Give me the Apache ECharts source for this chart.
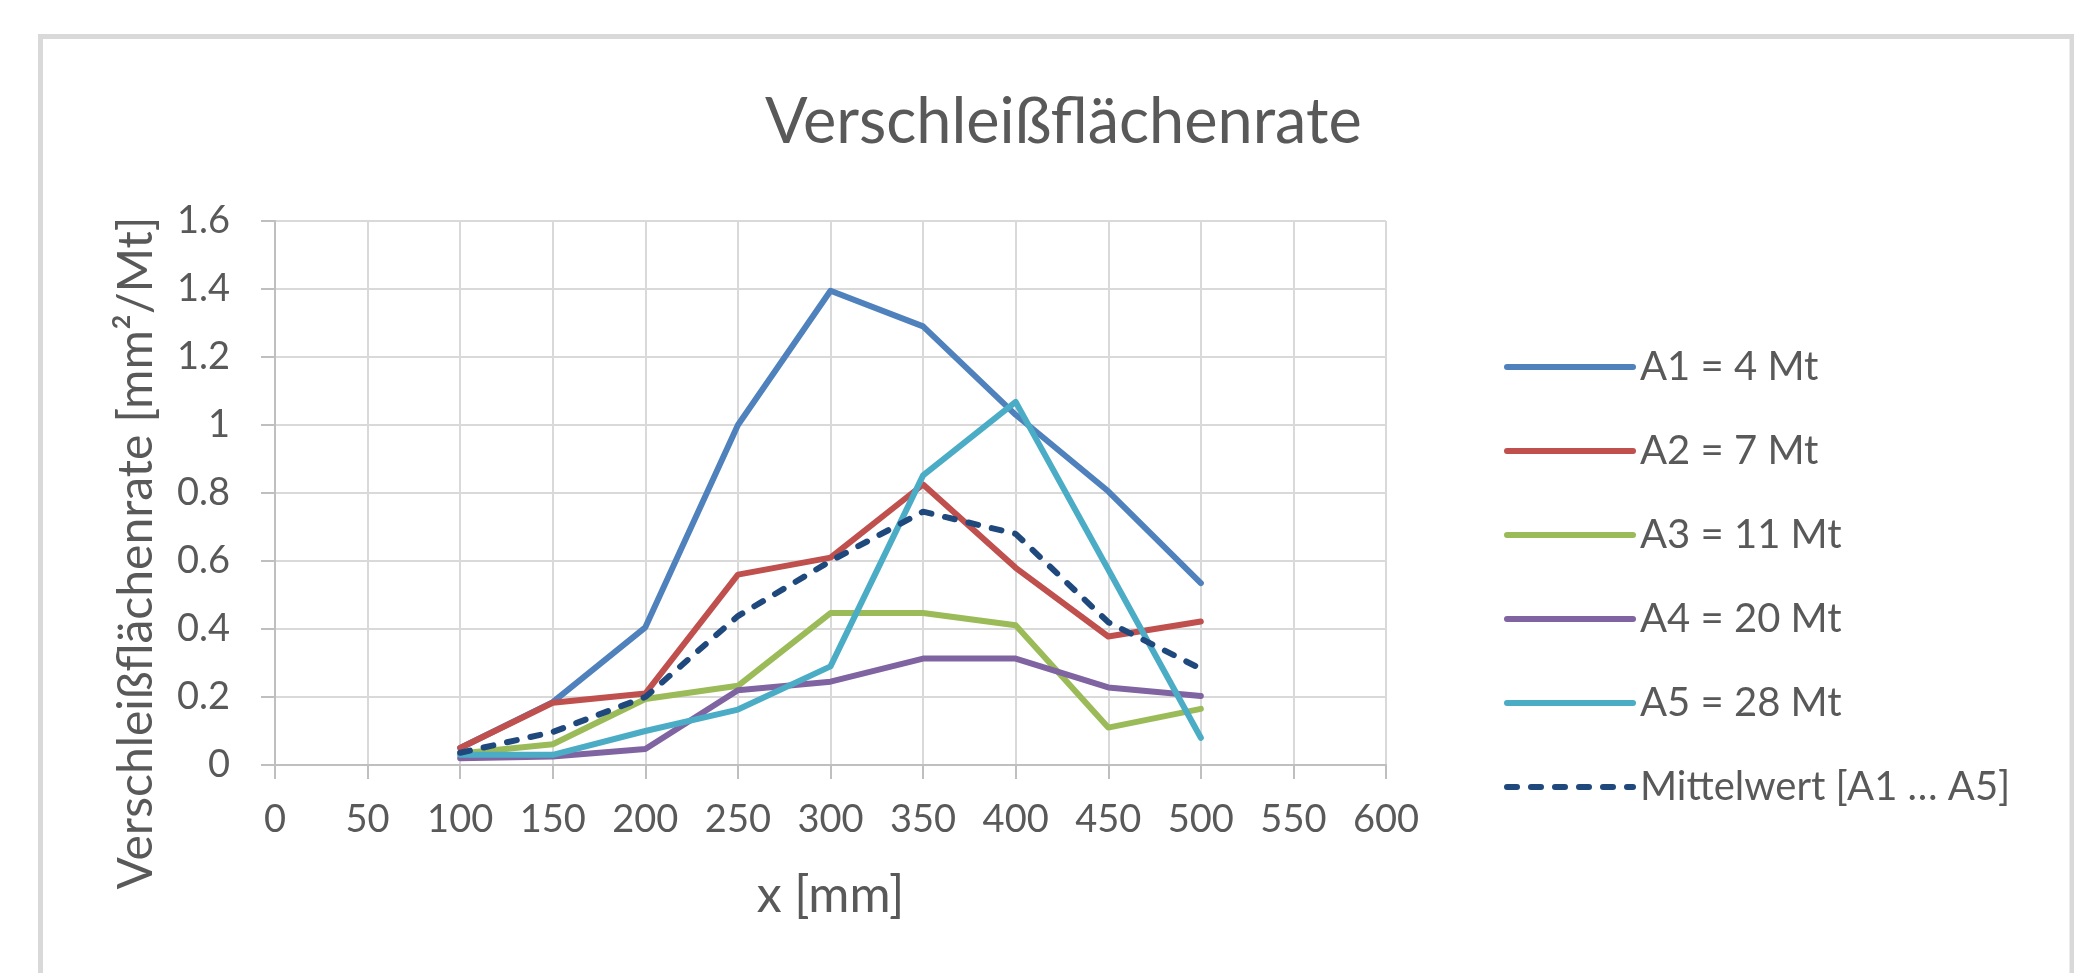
<!DOCTYPE html>
<html>
<head>
<meta charset="utf-8">
<script src="https://cdn.jsdelivr.net/npm/echarts@6/dist/echarts.min.js"></script>
<style>
  html, body { margin: 0; padding: 0; background: #fff; }
  #chart { width: 2074px; height: 973px; }
</style>
</head>
<body>
<div id="chart"></div>
<script>
const xValues = [100, 150, 200, 250, 300, 350, 400, 450, 500];
const A1 = [0.05, 0.185, 0.405, 1.0, 1.395, 1.29, 1.03, 0.805, 0.535];
const A2 = [0.05, 0.183, 0.21, 0.56, 0.61, 0.825, 0.58, 0.378, 0.422];
const A3 = [0.034, 0.061, 0.194, 0.233, 0.447, 0.447, 0.411, 0.11, 0.165];
const A4 = [0.02, 0.025, 0.047, 0.22, 0.245, 0.313, 0.313, 0.228, 0.203];
const A5 = [0.03, 0.03, 0.10, 0.163, 0.29, 0.852, 1.068, 0.575, 0.08];
const Mean = [0.036, 0.097, 0.2, 0.438, 0.6, 0.745, 0.68, 0.42, 0.283];
const seriesNames = ['A1 = 4 Mt', 'A2 = 7 Mt', 'A3 = 11 Mt', 'A4 = 20 Mt', 'A5 = 28 Mt', 'Mittelwert [A1 … A5]'];
const seriesValues = [A1, A2, A3, A4, A5, Mean];
const colors = ['#4F81BD', '#C0504D', '#9BBB59', '#8064A2', '#4BACC6', '#1F497D'];

const FONT = 'Lato';
const TXT = '#595959';

const lineStyles = seriesValues.map((v, i) => i === 5
  ? { color: colors[i], width: 6, type: [10, 14], cap: 'round' }
  : { color: colors[i], width: 6, type: 'solid', cap: 'round', join: 'round' });

const chart = echarts.init(document.getElementById('chart'));
const series = seriesValues.map((vals, i) => ({
  name: seriesNames[i],
  type: 'line',
  data: xValues.map((x, j) => [x, vals[j]]),
  symbol: 'none',
  showSymbol: false,
  z: i === 5 ? 10 : 2,
  lineStyle: lineStyles[i],
  itemStyle: { color: colors[i] },
  emphasis: { disabled: true }
}));

chart.setOption({
  animation: false,
  backgroundColor: '#ffffff',
  graphic: [{
    type: 'rect',
    shape: { x: 40.5, y: 36.5, width: 2031.5, height: 1000 },
    style: { fill: 'none', stroke: '#d9d9d9', lineWidth: 5 },
    silent: true
  }],
  title: {
    text: 'Verschleißflächenrate',
    left: 760,
    top: 86,
    textStyle: { fontFamily: FONT, fontSize: 63, fontWeight: 'normal', color: TXT }
  },
  legend: {
    orient: 'vertical',
    left: 1499,
    top: 342,
    itemWidth: 126,
    itemHeight: 20,
    itemGap: 44,
    data: seriesNames.map((n, i) => ({ name: n, lineStyle: lineStyles[i] })),
    itemStyle: { opacity: 0 },
    textStyle: { fontFamily: FONT, fontSize: 40, color: TXT, lineHeight: 40, padding: [0, 0, 0, 2] }
  },
  grid: { left: 275, right: 688, top: 221, bottom: 208, containLabel: false },
  xAxis: {
    type: 'value',
    min: 0, max: 600, interval: 50,
    name: 'x [mm]',
    nameLocation: 'middle',
    nameGap: 106,
    nameTextStyle: { fontFamily: FONT, fontSize: 50, color: TXT },
    axisLine: { show: true, lineStyle: { color: '#bfbfbf', width: 2 } },
    axisTick: { show: true, length: 14, lineStyle: { color: '#bfbfbf', width: 2 } },
    axisLabel: { fontFamily: FONT, fontSize: 38, color: TXT, margin: 36 },
    splitLine: { show: true, lineStyle: { color: '#d9d9d9', width: 2 } }
  },
  yAxis: {
    type: 'value',
    min: 0, max: 1.6, interval: 0.2,
    name: 'Verschleißflächenrate [mm²/Mt]',
    nameLocation: 'middle',
    nameGap: 114,
    nameTextStyle: { fontFamily: FONT, fontSize: 48, color: TXT, padding: [0, 120, 0, 0] },
    axisLine: { show: true, lineStyle: { color: '#bfbfbf', width: 2 } },
    axisTick: { show: true, length: 14, lineStyle: { color: '#bfbfbf', width: 2 } },
    axisLabel: { fontFamily: FONT, fontSize: 38, color: TXT, margin: 45 },
    splitLine: { show: true, lineStyle: { color: '#d9d9d9', width: 2 } }
  },
  series: series
});
</script>
</body>
</html>
